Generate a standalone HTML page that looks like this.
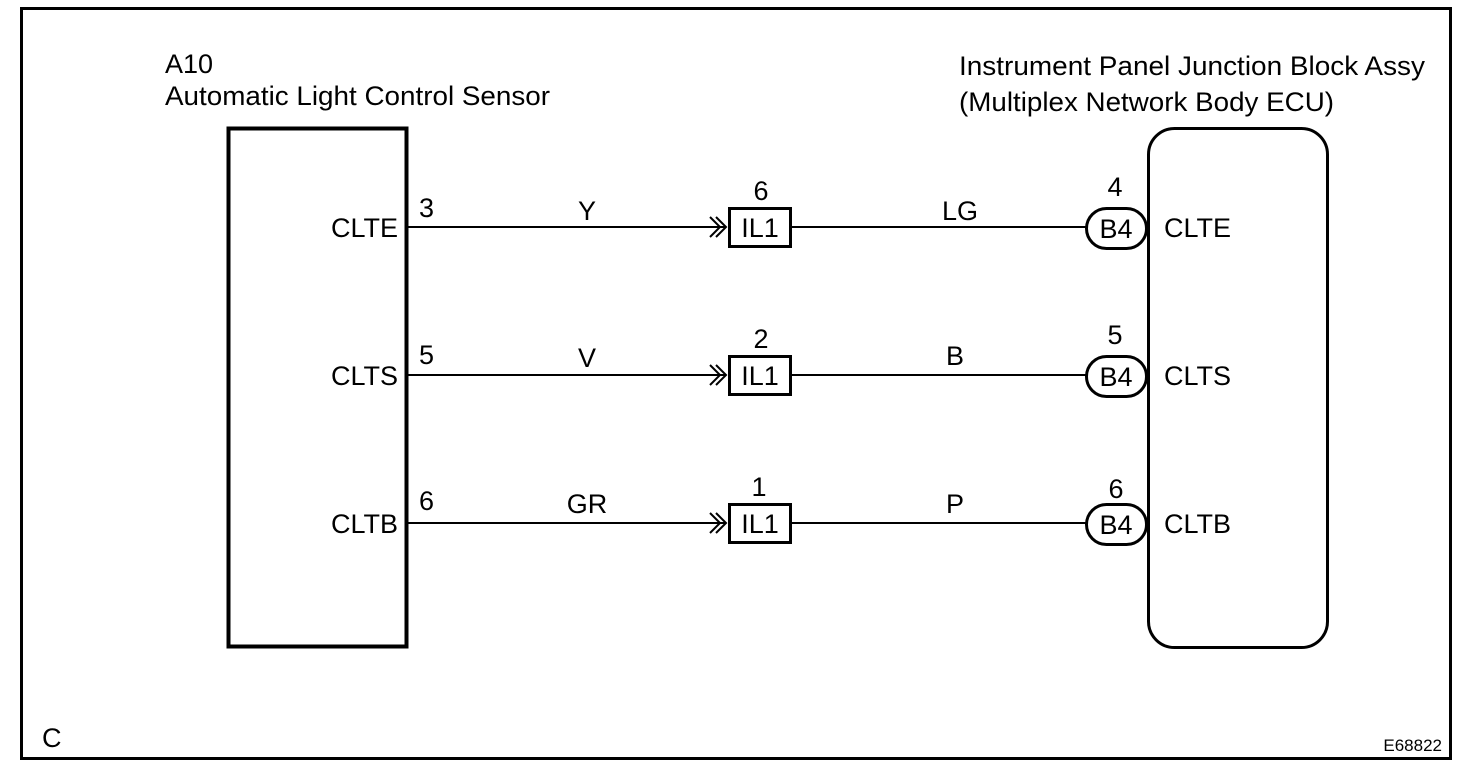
<!DOCTYPE html>
<html><head><style>html,body{margin:0;padding:0;background:#fff}svg{display:block}</style></head>
<body>
<svg width="1472" height="774" xmlns="http://www.w3.org/2000/svg" font-family="Liberation Sans, Arial, sans-serif" font-size="27" fill="#000">
<rect x="21.5" y="8.5" width="1429" height="750" fill="none" stroke="#000" stroke-width="3"/>
<text x="165" y="73" font-size="27">A10</text>
<text x="165" y="105" font-size="27" textLength="385" lengthAdjust="spacingAndGlyphs">Automatic Light Control Sensor</text>
<text x="959" y="75" font-size="27" textLength="466" lengthAdjust="spacingAndGlyphs">Instrument Panel Junction Block Assy</text>
<text x="959" y="111" font-size="27" textLength="375" lengthAdjust="spacingAndGlyphs">(Multiplex Network Body ECU)</text>
<rect x="228.5" y="128.5" width="178" height="518" fill="none" stroke="#000" stroke-width="4"/>
<rect x="1148.5" y="128.5" width="179" height="519" rx="26" fill="none" stroke="#000" stroke-width="3"/>
<g stroke="#000" stroke-width="2" fill="none">
<line x1="407" y1="227" x2="726" y2="227"/><line x1="791" y1="227" x2="1086" y2="227"/>
<line x1="407" y1="375" x2="726" y2="375"/><line x1="791" y1="375" x2="1086" y2="375"/>
<line x1="407" y1="523" x2="726" y2="523"/><line x1="791" y1="523" x2="1086" y2="523"/>
<path d="M710 217 L720 227 L710 237 M716 217 L726 227 L716 237"/>
<path d="M710 365 L720 375 L710 385 M716 365 L726 375 L716 385"/>
<path d="M710 513 L720 523 L710 533 M716 513 L726 523 L716 533"/>
</g>
<g stroke="#000" stroke-width="3" fill="#fff">
<rect x="729.5" y="208.5" width="61" height="38"/>
<rect x="729.5" y="356.5" width="61" height="38"/>
<rect x="729.5" y="504.5" width="61" height="38"/>
<rect x="1086.5" y="208.5" width="60" height="40" rx="20"/>
<rect x="1086.5" y="356.5" width="60" height="40" rx="20"/>
<rect x="1086.5" y="504.5" width="60" height="40" rx="20"/>
</g>
<g text-anchor="middle">
<text x="760" y="237">IL1</text><text x="760" y="385">IL1</text><text x="760" y="533">IL1</text>
<text x="761" y="200">6</text><text x="761" y="348">2</text><text x="759" y="496">1</text>
<text x="1116" y="238">B4</text><text x="1116" y="386">B4</text><text x="1116" y="534">B4</text>
<text x="1115" y="196">4</text><text x="1115" y="344">5</text><text x="1116" y="498">6</text>
<text x="587" y="220">Y</text><text x="587" y="367">V</text><text x="587" y="513">GR</text>
<text x="960" y="220">LG</text><text x="955" y="365">B</text><text x="955" y="513">P</text>
</g>
<g text-anchor="end">
<text x="398" y="237">CLTE</text><text x="398" y="385">CLTS</text><text x="398" y="533">CLTB</text>
</g>
<text x="419" y="217">3</text><text x="419" y="364">5</text><text x="419" y="510">6</text>
<text x="1164" y="237">CLTE</text><text x="1164" y="385">CLTS</text><text x="1164" y="533">CLTB</text>
<text x="42" y="747">C</text>
<text x="1442" y="751" font-size="17" text-anchor="end">E68822</text>
</svg>
</body></html>
